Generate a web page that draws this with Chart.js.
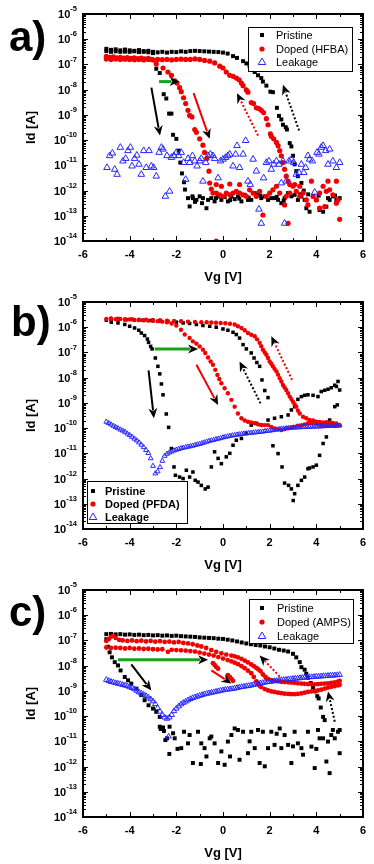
<!DOCTYPE html>
<html>
<head>
<meta charset="utf-8">
<script src="https://cdn.jsdelivr.net/npm/chart.js@4.4.0/dist/chart.umd.min.js"></script>
<style>
  body { margin: 0; background: #fff; }
  canvas { display: block; }
</style>
</head>
<body>
<canvas id="chartA" width="374" height="288"></canvas>
<canvas id="chartB" width="374" height="288"></canvas>
<canvas id="chartC" width="374" height="288"></canvas>
<script>
// all points are [Vg (V), log10 of Id (A)]
const xMin = -6
const xMax = 6
const yTickExps = [-14, -13, -12, -11, -10, -9, -8, -7, -6, -5]

const labelsA = ['Pristine', 'Doped (HFBA)', 'Leakage']
const labelsB = ['Pristine', 'Doped (PFDA)', 'Leakage']
const labelsC = ['Pristine', 'Doped (AMPS)', 'Leakage']

// ---------- panel a ----------
const aPristine = [
  [-5,-6.38],[-4.8,-6.42],[-4.6,-6.4],[-4.4,-6.44],[-4.2,-6.41],[-4,-6.44],[-3.8,-6.46],[-3.6,-6.43],[-3.4,-6.47],[-3.2,-6.46],[-3,-6.55],
  [-2.86,-7.17],[-2.71,-7.34],[-2.54,-8.18],[-2.43,-8.35],[-2.31,-8.95],[-2.21,-8.95],[-2.14,-9.79],[-2,-9.95],[-1.9,-10.42],[-1.83,-10.89],
  [-1.76,-11.32],[-1.67,-11.67],[-1.63,-11.96],[-1.5,-12.3],[-1.43,-12.63],[-1.31,-12.23],
  [-5,-6.47],[-4.8,-6.5],[-4.6,-6.48],[-4.4,-6.5],[-4.2,-6.49],[-4,-6.5],[-3.8,-6.48],[-3.6,-6.51],[-3.4,-6.5],[-3.2,-6.52],[-3,-6.5],
  [-2.8,-6.52],[-2.6,-6.5],[-2.4,-6.53],[-2.2,-6.5],[-2,-6.51],[-1.8,-6.48],[-1.6,-6.5],[-1.4,-6.47],[-1.2,-6.46],[-1,-6.47],[-0.8,-6.48],
  [-0.6,-6.49],[-0.4,-6.5],[-0.2,-6.51],[0,-6.53],[0.2,-6.57],[0.43,-6.67],[0.6,-6.74],[0.86,-6.87],[1,-6.96],[1.14,-7.07],[1.29,-7.2],
  [1.36,-7.3],[1.5,-7.43],[1.64,-7.54],[1.71,-7.68],[1.86,-7.84],[2.03,-8.08],[2.14,-8.1],[2.31,-8.72],[2.4,-9.04],[2.5,-9.18],[2.57,-9.39],
  [2.69,-9.49],[2.74,-9.58],[2.86,-10.12],[2.93,-10.25],[3,-10.62],[3.07,-10.96],[3.14,-11.23],[3.21,-11.43],[3.36,-11.7],[3.46,-12],
  [-1.29,-12.3],[-1.14,-12.37],[-1,-12.23],[-0.86,-12.3],[-0.71,-12.7],[-0.64,-12.37],[-0.5,-12.3],[-0.36,-12.43],[-0.21,-12.23],[-0.07,-12.37],
  [0.07,-12.26],[0.21,-12.43],[0.36,-12.23],[0.5,-12.34],[0.64,-12.23],[0.79,-12.43],[0.93,-12.17],[1.07,-12.37],[1.21,-12.37],[1.36,-12.1],
  [1.5,-12.17],[1.64,-12.3],[1.79,-12.23],[1.93,-12.37],[2.07,-12.3],[2.21,-12.3],[2.36,-12.37],[2.5,-12.5],[2.64,-12.3],[2.79,-12.1],
  [2.93,-12.23],[3.07,-12.17],[3.21,-12.37],[3.36,-12.23],[3.5,-12.37],[3.57,-12.7],[3.71,-12.84],[3.86,-12.23],[4,-12.37],[4.14,-12.77],
  [4.29,-12.84],[4.43,-12.64],[4.57,-12.37],[4.71,-12.23],[4.86,-12.37],[5,-12.3],
  [-1.2,-12.45],[-0.9,-12.5],[-0.3,-12.3],[0.3,-12.38],[0.7,-12.32],[1.1,-12.28],[1.6,-12.2],[2.3,-12.25],[2.6,-12.4],
  [3.3,-12.15],[3.65,-12.15],[4.1,-12.2],[4.5,-12.3],[4.8,-12.2]
]
const aDoped = [
  [-5,-6.68],[-4.85,-6.72],[-4.7,-6.7],[-4.55,-6.74],[-4.4,-6.72],[-4.25,-6.75],[-4.1,-6.73],[-3.95,-6.76],[-3.8,-6.74],[-3.65,-6.77],
  [-3.5,-6.75],[-3.35,-6.78],[-3.2,-6.76],[-3.05,-6.8],
  [-5,-6.78],[-4.8,-6.8],[-4.6,-6.78],[-4.4,-6.8],[-4.2,-6.79],[-4,-6.8],[-3.8,-6.81],[-3.6,-6.8],[-3.4,-6.82],[-3.2,-6.8],[-3,-6.82],
  [-2.8,-6.8],[-2.6,-6.81],[-2.4,-6.8],[-2.2,-6.82],[-2,-6.8],[-1.8,-6.79],[-1.6,-6.8],[-1.4,-6.8],[-1.2,-6.78],
  [-1,-6.8],[-0.79,-6.84],[-0.57,-6.87],[-0.36,-6.94],[-0.14,-7.07],[0,-7.14],[0.14,-7.3],[0.29,-7.43],[0.43,-7.47],[0.57,-7.54],
  [0.69,-7.61],[0.79,-7.74],[0.86,-7.84],[1,-8.01],[1.07,-8.1],[1.21,-8.51],[1.31,-8.55],[1.43,-8.72],[1.54,-8.75],[1.64,-8.82],
  [1.74,-8.91],[1.86,-9.15],[1.93,-9.39],[2.03,-9.75],[2.07,-9.85],[2.17,-9.95],[2.29,-10.09],[2.36,-10.22],[2.43,-10.42],[2.5,-10.62],
  [2.57,-10.89],[2.64,-11.16],[2.71,-11.43],[2.79,-11.63],[2.86,-11.76],
  [-2.86,-6.98],[-2.57,-7.14],[-2.36,-7.3],[-2.21,-7.43],[-2.07,-7.65],[-1.97,-7.74],[-1.86,-7.92],[-1.79,-8.08],[-1.69,-8.32],[-1.6,-8.55],
  [-1.5,-8.82],[-1.43,-9.02],[-1.33,-9.08],[-1.21,-9.58],[-1.14,-9.69],[-1,-9.95],[-0.86,-10.2],[-0.79,-10.49],[-0.69,-10.73],[-0.6,-11.23],
  [-0.57,-11.7],[-0.5,-11.94],[-0.43,-12.1],[-0.29,-14],
  [-0.29,-12.1],[-0.14,-12.17],[0,-12.23],[0.14,-12.1],[0.29,-12.17],[0.43,-12.1],[0.57,-12.03],[0.71,-12.1],[0.86,-12.17],[1,-12.23],
  [1.14,-11.97],[1.29,-12.1],[1.43,-12.23],[1.57,-12.03],[1.71,-12.97],[1.86,-12.23],[2,-12.1],[2.14,-11.97],[2.29,-11.83],[2.43,-12.1],
  [2.64,-12.57],[2.71,-12.23],[2.79,-13.3],[2.86,-12.1],[3,-11.83],[3.14,-12.03],[3.29,-12.23],[3.43,-12.1],[3.57,-12.37],[3.64,-12.57],
  [3.79,-11.63],[3.86,-12.23],[4,-12.37],[4.14,-12.1],[4.29,-11.83],[4.43,-12.03],[4.5,-11.63],[4.57,-11.97],[4.71,-12.17],[4.86,-11.63],
  [4.93,-12.37],[5,-13.14],[4.86,-12.5],[4.36,-12.64],[4.14,-12.7],[3.29,-11.83],[3.07,-11.76],[-0.29,-11.76],[-0.07,-11.83],[0.29,-11.74],
  [0.71,-11.76]
]
const aLeakage = [
  [-4.97,-11.09],[-4.86,-10.62],[-4.74,-10.52],[-4.64,-11.16],[-4.54,-11.36],[-4.4,-10.29],[-4.29,-10.83],[-4.17,-10.73],[-4.07,-10.42],
  [-3.97,-10.29],[-3.9,-11.03],[-3.79,-10.73],[-3.69,-10.6],[-3.6,-10.96],[-3.5,-11.36],[-3.4,-10.42],[-3.29,-11.09],[-3.17,-10.42],
  [-3.07,-11.03],[-2.97,-11.09],[-2.86,-11.43],[-2.74,-10.49],[-2.64,-10.29],[-2.57,-10.36],[-2.47,-12.23],[-2.4,-10.62],[-2.29,-12.03],
  [-2.21,-10.69],[-2.11,-10.62],[-2,-10.49],[-1.9,-10.62],[-1.79,-10.49],[-1.69,-10.89],[-1.6,-11.56],[-1.5,-10.73],[-1.43,-10.89],
  [-1.31,-10.62],[-1.21,-10.83],[-1.11,-11.03],[-1,-10.83],[-0.93,-10.73],[-0.86,-11.63],[-0.74,-10.89],[-0.64,-10.62],[-0.54,-10.56],
  [-0.43,-10.62],[-0.36,-10.73],[-0.21,-11.5],[-0.11,-10.83],[0,-10.76],[0.11,-10.69],[0.21,-10.62],[0.29,-10.56],[0.43,-11.03],
  [0.54,-10.56],[0.6,-10.22],[0.71,-11.09],[0.86,-10.56],[0.97,-10.02],[1.07,-11.63],[1.17,-11.76],[1.29,-10.76],[1.43,-11.23],
  [1.54,-12.74],[1.64,-13.3],[1.74,-11.5],[1.86,-10.89],[1.97,-10.83],[2.07,-11.16],[2.17,-10.96],[2.29,-10.83],[2.4,-10.96],[2.5,-11.7],
  [2.57,-10.83],[2.64,-13.3],[2.71,-11.63],[2.83,-10.83],[2.93,-10.76],[3.03,-10.89],[3.14,-11.36],[3.26,-11.29],[3.36,-10.96],
  [3.46,-11.29],[3.54,-11.09],[3.64,-10.62],[3.71,-10.76],[3.83,-10.83],[3.93,-12.07],[4.03,-10.49],[4.11,-10.56],[4.21,-10.29],
  [4.29,-10.22],[4.4,-10.42],[4.5,-10.96],[4.57,-10.36],[4.71,-10.83],[4.86,-11.09],[5,-10.89]
]

// ---------- panel b ----------
const bPristine = [
  [-5,-5.72],[-4.79,-5.8],[-4.5,-5.83],[-4.21,-5.89],[-4,-5.96],[-3.79,-6.03],[-3.61,-6.12],[-3.5,-6.23],[-3.36,-6.33],[-3.24,-6.47],
  [-3.19,-6.6],[-3.1,-6.76],[-3.04,-6.86],[-2.9,-7.22],[-2.79,-7.55],[-2.71,-7.85],[-2.64,-8.25],[-2.57,-8.68],[-2.43,-9.44],[-2.33,-9.97],
  [-2.21,-10.81],[-2.1,-11.54],[-2.04,-11.87],[-1.86,-11.94],[-1.71,-12],[-1.57,-11.67],[-1.43,-11.94],[-1.29,-11.74],[-1.19,-12.07],
  [-1.07,-12.14],[-0.93,-12.27],[-0.76,-12.41],[-0.64,-12.34],[-0.5,-11.54],[-0.36,-10.94],[-0.21,-11.2],[-0.07,-11.41],[0.14,-11.14],
  [0.29,-11],[0.43,-10.68],[0.57,-10.48],[0.79,-10.41],[1,-10.21],[1.21,-9.88],[1.43,-9.81],[1.64,-9.88],[1.93,-9.68],[2.21,-9.61],
  [2.5,-9.55],[2.79,-9.48],[2.93,-9.28],[3.07,-9.15],[3.21,-8.86],[3.36,-8.75],[3.5,-8.7],[3.64,-8.68],[3.86,-8.7],[4.07,-8.75],
  [4.21,-8.55],[4.36,-8.5],[4.5,-8.46],[4.64,-8.4],[4.79,-8.3],[4.86,-8.35],[4.93,-8.15],[5,-8.49],
  [4.9,-9.08],[4.79,-9.15],[4.57,-9.68],[4.43,-10.35],[4.29,-10.61],[4.14,-11.08],[4,-11.47],[3.86,-11.54],[3.71,-11.58],[3.64,-11.61],
  [3.5,-11.94],[3.36,-12.07],[3.21,-12.27],[3.07,-12.6],[3.01,-12.87],[2.93,-12.41],[2.81,-12.27],[2.64,-12.18],[2.53,-11.54],[2.36,-11.01],
  [2.14,-10.7],[1.93,-8.79],[1.79,-8.51],[1.67,-8.09],[1.57,-7.55],[1.45,-7.4],[1.33,-7.22],[1.21,-7.02],[1,-6.86],[0.86,-6.69],
  [0.71,-6.43],[0.57,-6.29],[0.43,-6.2],[0.21,-6.12],[0,-6.07],[-0.29,-6],[-0.57,-5.96],[-0.86,-5.93],[-1.14,-5.89],[-1.43,-5.85],
  [-1.71,-5.83],[-2,-5.8],[-2.36,-5.77],[-2.71,-5.76],[-3.07,-5.73],[-3.43,-5.72],[-3.79,-5.72],[-4.15,-5.7],[-4.5,-5.69],[-4.79,-5.69]
]
const bDoped = [
  [-5,-5.67],[-4.8,-5.65],[-4.6,-5.68],[-4.4,-5.67],[-4.2,-5.7],[-4,-5.69],[-3.8,-5.71],[-3.6,-5.72],[-3.4,-5.73],[-3.2,-5.74],
  [-3,-5.75],[-2.8,-5.76],[-2.6,-5.78],[-2.4,-5.8],[-2.2,-5.85],[-2,-5.93],[-1.8,-6.1],[-1.64,-6.29],[-1.43,-6.43],[-1.29,-6.56],
  [-1.14,-6.65],[-1,-6.76],[-0.86,-6.89],[-0.76,-7.02],[-0.64,-7.2],[-0.53,-7.36],[-0.43,-7.49],[-0.33,-7.69],[-0.24,-7.89],[-0.16,-8.05],
  [-0.07,-8.22],[0.07,-8.42],[0.21,-8.62],[0.36,-8.88],[0.5,-9.15],[0.64,-9.42],[0.79,-9.61],[0.93,-9.7],[1.07,-9.75],[1.21,-9.78],
  [1.36,-9.81],[1.5,-9.85],[1.64,-9.88],[1.79,-9.88],[1.93,-9.88],[2.07,-9.95],[2.21,-10.01],[2.36,-10.05],[2.5,-10.08],[2.64,-10.04],
  [2.79,-10.01],[2.93,-9.98],[3.07,-9.95],[3.21,-9.9],[3.36,-9.88],[3.5,-9.85],[3.64,-9.81],[3.79,-9.8],[3.93,-9.81],[4.07,-9.85],
  [4.21,-9.88],[4.36,-9.9],[4.5,-9.92],[4.64,-9.9],[4.79,-9.92],[4.93,-9.9],[5,-9.88],
  [4.86,-9.82],[4.71,-9.8],[4.57,-9.78],[4.43,-9.77],[4.29,-9.78],[4.14,-9.76],[4,-9.75],[3.86,-9.7],[3.71,-9.68],[3.57,-9.61],
  [3.43,-9.55],[3.29,-9.42],[3.21,-9.3],[3.14,-9.15],[3.07,-9.05],[3,-8.95],[2.93,-8.85],[2.86,-8.75],[2.79,-8.62],[2.71,-8.49],
  [2.64,-8.39],[2.57,-8.29],[2.5,-8.15],[2.43,-8.02],[2.36,-7.88],[2.29,-7.75],[2.21,-7.65],[2.14,-7.55],[2.07,-7.45],[2,-7.36],
  [1.93,-7.22],[1.86,-7.09],[1.79,-7],[1.71,-6.89],[1.64,-6.75],[1.57,-6.62],[1.46,-6.48],[1.36,-6.36],[1.21,-6.3],[1.07,-6.23],
  [0.93,-6.12],[0.79,-6.03],[0.64,-5.96],[0.5,-5.89],[0.3,-5.86],[0.1,-5.84],[-0.1,-5.83],[-0.3,-5.82],[-0.5,-5.81],[-0.7,-5.8],
  [-0.93,-5.8],[-1.2,-5.79],[-1.5,-5.78],[-1.8,-5.76],[-2.1,-5.75],[-2.4,-5.74],[-2.7,-5.72],[-3,-5.71],[-3.3,-5.7],[-3.6,-5.7],
  [-3.9,-5.68],[-4.2,-5.68],[-4.5,-5.66],[-4.8,-5.66]
]
const bLeakage = [
  [-5,-9.75],[-4.9,-9.8],[-4.8,-9.86],[-4.7,-9.91],[-4.6,-9.96],[-4.5,-10.01],[-4.4,-10.06],[-4.3,-10.1],[-4.2,-10.15],[-4.1,-10.22],
  [-4,-10.28],[-3.9,-10.35],[-3.8,-10.42],[-3.7,-10.49],[-3.6,-10.57],[-3.5,-10.66],[-3.4,-10.76],[-3.3,-10.87],[-3.2,-10.99],[-3.1,-11.2],
  [-3,-11.5],[-2.9,-11.8],[-2.8,-11.72],[-2.7,-11.55],[-2.6,-11.3],[-2.5,-11.1],[-2.4,-11.02],[-2.3,-10.97],[-2.2,-10.93],[-2.1,-10.89],
  [-2,-10.86],[-1.9,-10.83],[-1.8,-10.8],[-1.7,-10.78],[-1.6,-10.76],[-1.5,-10.74],[-1.4,-10.72],[-1.3,-10.7],[-1.2,-10.67],[-1.1,-10.65],
  [-1,-10.63],[-0.9,-10.6],[-0.8,-10.57],[-0.7,-10.54],[-0.6,-10.51],[-0.5,-10.49],[-0.4,-10.47],[-0.3,-10.44],[-0.2,-10.42],[-0.1,-10.4],
  [0,-10.37],[0.1,-10.35],[0.2,-10.33],[0.3,-10.31],[0.4,-10.29],[0.5,-10.28],[0.6,-10.26],[0.7,-10.25],[0.8,-10.23],[0.9,-10.22],
  [1,-10.21],[1.1,-10.2],[1.2,-10.19],[1.3,-10.18],[1.4,-10.17],[1.5,-10.16],[1.6,-10.15],[1.7,-10.14],[1.8,-10.12],[1.9,-10.11],
  [2,-10.1],[2.1,-10.09],[2.2,-10.07],[2.3,-10.06],[2.4,-10.04],[2.5,-10.03],[2.6,-10.02],[2.7,-10.01],[2.8,-10],[2.9,-9.99],
  [3,-9.98],[3.1,-9.98],[3.2,-9.97],[3.3,-9.97],[3.4,-9.96],[3.5,-9.96],[3.6,-9.95],[3.7,-9.95],[3.8,-9.95],[3.9,-9.94],
  [4,-9.94],[4.1,-9.94],[4.2,-9.93],[4.3,-9.93],[4.4,-9.92],[4.5,-9.92],[4.6,-9.92],[4.7,-9.91],[4.8,-9.91],[4.9,-9.9],[5,-9.9]
]

// ---------- panel c ----------
const cPristine = [
  [-5,-6.75],[-4.8,-6.74],[-4.6,-6.76],[-4.4,-6.75],[-4.2,-6.77],[-4,-6.76],[-3.8,-6.78],[-3.6,-6.77],[-3.4,-6.79],[-3.2,-6.78],
  [-3,-6.8],[-2.8,-6.79],[-2.6,-6.81],[-2.4,-6.8],[-2.2,-6.82],[-2,-6.81],[-1.8,-6.83],[-1.6,-6.84],[-1.4,-6.85],[-1.2,-6.86],
  [-1,-6.88],[-0.8,-6.89],[-0.6,-6.9],[-0.4,-6.91],[-0.2,-6.93],[0,-6.94],[0.2,-6.97],[0.4,-7],[0.6,-7.04],[0.8,-7.08],
  [1,-7.12],[1.2,-7.15],[1.4,-7.18],[1.6,-7.2],[1.8,-7.24],[2,-7.27],[2.2,-7.32],[2.4,-7.37],[2.6,-7.4],[2.79,-7.44],
  [3,-7.53],[3.14,-7.67],[3.29,-7.86],[3.36,-8.06],[3.5,-8.16],[3.57,-8.32],[3.64,-8.48],[3.76,-8.69],[3.86,-8.85],[3.96,-9.02],
  [4.04,-9.21],[4.1,-9.3],[4.19,-9.66],[4.29,-10.03],[4.36,-10.16],
  [-5,-6.95],[-4.93,-7.25],[-4.86,-7.47],[-4.76,-7.67],[-4.64,-7.86],[-4.5,-7.99],[-4.39,-8.19],[-4.21,-8.45],[-4.07,-8.58],[-3.93,-8.71],
  [-3.71,-8.91],[-3.5,-9.17],[-3.36,-9.37],[-3.19,-9.57],[-3,-9.7],[-2.86,-9.83],[-2.71,-10.03],[-2.71,-10.42],
  [-2.67,-10.51],[-2.53,-10.59],[-2.4,-10.88],[-2.29,-10.42],[-2.14,-10.68],[-2.07,-10.88],[-1.79,-11.27],[-1.67,-10.62],[-1.5,-11.08],
  [-1.43,-10.75],[-1.29,-11.86],[-1.07,-10.62],[-0.93,-11.08],[-0.79,-11.27],[-0.71,-11.6],[-0.57,-10.88],[-0.5,-10.81],[-0.36,-11.08],
  [-0.21,-11.86],[-0.07,-11.4],[0.07,-11.93],[0.21,-11.01],[0.36,-10.75],[0.5,-10.49],[0.64,-10.55],[0.71,-11.73],[0.86,-10.62],
  [1.07,-11.47],[1.21,-10.62],[1.36,-11.27],[1.5,-10.55],[1.57,-11.86],[1.71,-10.62],[1.79,-11.99],[1.93,-11.27],[2.07,-10.62],
  [2.21,-11.14],[2.43,-10.49],[2.5,-11.27],[2.64,-10.75],[2.79,-11.14],[2.93,-11.86],[3.07,-10.62],[3.21,-11.08],[3.36,-11.27],
  [3.43,-11.53],[3.64,-10.62],[3.79,-11.21],[3.93,-12.06],[4.07,-10.55],[4.14,-10.88],[4.29,-10.88],[4.43,-11.8],[4.5,-11.01],
  [4.57,-12.26],[4.64,-10.75],[4.71,-10.55],[4.79,-10.88],[4.93,-10.62],[5,-11.47],[5,-10.55],
  [-2.57,-10.45],[-2.47,-10.95],[-2.3,-11.5],[-1.95,-11.3],[-0.95,-11.9],[0.3,-11.6],[1.14,-11.0],[2.3,-10.7],[3.0,-11.2],[4.0,-11.3]
]
const cDoped = [
  [-5,-7.02],[-4.9,-6.95],[-4.8,-6.85],[-4.7,-6.82],[-4.6,-6.9],[-4.45,-6.98],[-4.3,-7],[-4.1,-7.02],[-3.9,-7],[-3.7,-7.03],
  [-3.5,-7.01],[-3.3,-7.04],[-3.1,-7.02],[-2.9,-7.05],[-2.7,-7.03],[-2.5,-7.06],[-2.3,-7.05],[-2.1,-7.08],[-1.9,-7.06],[-1.7,-7.1],
  [-1.5,-7.12],[-1.3,-7.15],[-1.1,-7.2],[-0.93,-7.24],[-0.72,-7.3],[-0.5,-7.38],[-0.29,-7.45],[-0.07,-7.51],[0.14,-7.56],[0.36,-7.6],
  [0.5,-7.63],[0.64,-7.67],[0.79,-7.73],[0.93,-7.8],[1.07,-7.87],[1.21,-7.95],[1.32,-8.02],[1.43,-8.09],[1.52,-8.15],[1.61,-8.22],
  [1.71,-8.35],[1.82,-8.45],[1.93,-8.52],[2.07,-8.57],[2.21,-8.6],[2.36,-8.62],[2.5,-8.64],[2.64,-8.65],[2.79,-8.66],[2.93,-8.67],
  [3.07,-8.68],[3.21,-8.7],[3.36,-8.71],[3.5,-8.72],[3.64,-8.73],[3.79,-8.74],[3.93,-8.74],[4.07,-8.73],[4.21,-8.72],[4.36,-8.71],
  [4.5,-8.7],[4.64,-8.68],[4.79,-8.66],[4.93,-8.63],[5,-8.6],
  [-5,-7.28],[-4.8,-7.3],[-4.6,-7.29],[-4.4,-7.3],[-4.2,-7.32],[-4,-7.3],[-3.8,-7.33],[-3.6,-7.32],[-3.4,-7.34],[-3.2,-7.33],
  [-3,-7.35],[-2.8,-7.36],[-2.6,-7.35],[-2.36,-7.45],[-2.2,-7.37],[-2,-7.38],[-1.8,-7.39],[-1.6,-7.4],[-1.4,-7.42],[-1.2,-7.44],
  [-1,-7.48],[-0.8,-7.52],[-0.6,-7.56],[-0.4,-7.6],[-0.2,-7.66],[0,-7.72],[0.2,-7.78],[0.36,-7.83],[0.5,-7.88],[0.64,-7.94],
  [0.79,-8.02],[0.93,-8.1],[1.07,-8.2],[1.21,-8.3],[1.32,-8.45],[1.43,-8.62],[1.5,-8.71],[1.57,-8.8],[1.64,-8.85],[1.79,-8.93],
  [1.93,-8.98],[2.07,-9.02],[2.21,-9.04],[2.36,-9.07],[2.5,-9.09],[2.64,-9.11],[2.79,-9.12],[2.93,-9.13],[3.07,-9.13],[3.21,-9.12],
  [3.36,-9.1],[3.5,-9.07],[3.64,-9.04],[3.79,-9.02],[3.93,-9],[4.07,-8.98],[4.21,-8.95],[4.36,-8.91],[4.5,-8.87],[4.64,-8.84],
  [4.79,-8.81],[4.93,-8.78],[5,-8.76],
  [-0.43,-7.9],[-0.36,-7.97],[-0.29,-8.05],[-0.21,-8.12],[0.21,-8.38],[0.29,-8.45],[0.36,-8.52],[0.43,-8.6]
]
const cLeakage = [
  [-5,-8.56],[-4.9,-8.6],[-4.8,-8.64],[-4.7,-8.66],[-4.6,-8.69],[-4.5,-8.71],[-4.4,-8.73],[-4.3,-8.76],[-4.2,-8.78],[-4.1,-8.81],
  [-4,-8.85],[-3.9,-8.88],[-3.8,-8.93],[-3.7,-8.99],[-3.6,-9.05],[-3.5,-9.1],[-3.4,-9.15],[-3.3,-9.2],[-3.2,-9.26],[-3.1,-9.33],
  [-3,-9.41],[-2.9,-9.52],[-2.8,-9.68],[-2.7,-9.82],[-2.6,-9.95],[-2.5,-10.05],[-2.4,-10.1],[-2.3,-10.05],[-2.2,-9.95],[-2.1,-9.8],
  [-2,-9.7],[-1.9,-9.61],[-1.8,-9.53],[-1.7,-9.47],[-1.6,-9.42],[-1.5,-9.37],[-1.4,-9.32],[-1.3,-9.28],[-1.2,-9.25],[-1.1,-9.22],
  [-1,-9.19],[-0.9,-9.16],[-0.8,-9.13],[-0.7,-9.11],[-0.6,-9.09],[-0.5,-9.07],[-0.4,-9.05],[-0.3,-9.03],[-0.2,-9.01],[-0.1,-8.99],
  [0,-8.97],[0.1,-8.95],[0.2,-8.94],[0.3,-8.93],[0.4,-8.92],[0.5,-8.9],[0.6,-8.88],[0.7,-8.86],[0.8,-8.84],[0.9,-8.83],
  [1,-8.81],[1.1,-8.8],[1.2,-8.78],[1.3,-8.76],[1.4,-8.74],[1.5,-8.72],[1.6,-8.7],[1.7,-8.68],[1.8,-8.66],[1.9,-8.65],
  [2,-8.64],[2.1,-8.62],[2.2,-8.61],[2.3,-8.6],[2.4,-8.58],[2.5,-8.57],[2.6,-8.56],[2.7,-8.55],[2.8,-8.54],[2.9,-8.53],
  [3,-8.52],[3.1,-8.51],[3.2,-8.5],[3.3,-8.49],[3.4,-8.48],[3.5,-8.47],[3.6,-8.46],[3.7,-8.45],[3.8,-8.45],[3.9,-8.44],
  [4,-8.43],[4.1,-8.43],[4.2,-8.42],[4.3,-8.41],[4.4,-8.41],[4.5,-8.4],[4.6,-8.39],[4.7,-8.39],[4.8,-8.38],[4.9,-8.37],[5,-8.36],
  [-2.33,-10.81]
]

// arrows: from / to in the same [Vg, log10 Id] units
const arrowsA = [
  { from: [-2.74,-7.68], to: [-1.86,-7.68], color: '#1aa01a', width: 3 },
  { from: [-3.07,-7.92], to: [-2.7,-9.82], color: '#000' },
  { from: [-1.26,-8.14], to: [-0.57,-9.95], color: '#f00000' },
  { from: [1.5,-9.82], to: [0.6,-8.14], color: '#f00000', dotted: true },
  { from: [3.26,-9.62], to: [2.57,-7.81], color: '#000', dotted: true }
]
const arrowsB = [
  { from: [-2.93,-6.86], to: [-1.07,-6.86], color: '#1aa01a', width: 3 },
  { from: [-3.19,-7.71], to: [-2.96,-9.61], color: '#000' },
  { from: [-1.14,-7.49], to: [-0.21,-9.08], color: '#f00000' },
  { from: [1.61,-9.02], to: [0.71,-7.36], color: '#000', dotted: true },
  { from: [2.96,-8.09], to: [2.07,-6.36], color: '#f00000', dotted: true }
]
const arrowsC = [
  { from: [-4.5,-7.77], to: [-0.64,-7.77], color: '#1aa01a', width: 3 },
  { from: [-3.93,-7.95], to: [-3.07,-8.98], color: '#000' },
  { from: [-0.5,-8.19], to: [0.36,-8.71], color: '#f00000' },
  { from: [2.43,-8.43], to: [1.57,-7.6], color: '#f00000', dotted: true },
  { from: [4.79,-10.22], to: [4.5,-9.02], color: '#000', dotted: true }
]

const font = "'Liberation Sans', Arial, sans-serif"
Chart.defaults.font.family = font
Chart.defaults.color = '#000'

function pts(arr) {
  return arr.map(p => ({ x: p[0], y: Math.pow(10, p[1]) }))
}

function drawArrow(ctx, x1, y1, x2, y2, a) {
  const ang = Math.atan2(y2 - y1, x2 - x1)
  const hl = 10, hw = 4.5
  const bx = x2 - hl * Math.cos(ang), by = y2 - hl * Math.sin(ang)
  ctx.save()
  ctx.strokeStyle = a.color
  ctx.lineWidth = a.width || 2
  if (a.dotted) ctx.setLineDash([2, 2])
  ctx.beginPath()
  ctx.moveTo(x1, y1)
  ctx.lineTo(bx + 2 * Math.cos(ang), by + 2 * Math.sin(ang))
  ctx.stroke()
  ctx.setLineDash([])
  ctx.fillStyle = '#000'
  ctx.beginPath()
  ctx.moveTo(x2, y2)
  ctx.lineTo(bx + hw * Math.sin(ang), by - hw * Math.cos(ang))
  ctx.lineTo(bx + 3 * Math.cos(ang), by + 3 * Math.sin(ang))
  ctx.lineTo(bx - hw * Math.sin(ang), by + hw * Math.cos(ang))
  ctx.closePath()
  ctx.fill()
  ctx.restore()
}

function drawMarker(ctx, ds, x, y) {
  ctx.save()
  if (ds.pointStyle == 'rect') {
    ctx.fillStyle = ds.pointBackgroundColor
    ctx.fillRect(x - 2, y - 2, 4, 4)
  } else if (ds.pointStyle == 'circle') {
    ctx.fillStyle = ds.pointBackgroundColor
    ctx.beginPath(); ctx.arc(x, y, 2.6, 0, Math.PI * 2); ctx.fill()
  } else {
    ctx.strokeStyle = ds.pointBorderColor
    ctx.lineWidth = 1
    ctx.beginPath()
    ctx.moveTo(x, y - 4); ctx.lineTo(x + 3.8, y + 2.5); ctx.lineTo(x - 3.8, y + 2.5)
    ctx.closePath(); ctx.stroke()
  }
  ctx.restore()
}

const decor = {
  id: 'decor',
  afterDatasetsDraw(chart, args, opts) {
    const xs = chart.scales.x, ys = chart.scales.y
    opts.arrows.forEach(a => {
      drawArrow(chart.ctx,
        xs.getPixelForValue(a.from[0]), ys.getPixelForValue(Math.pow(10, a.from[1])),
        xs.getPixelForValue(a.to[0]), ys.getPixelForValue(Math.pow(10, a.to[1])), a)
    })
  },
  afterDraw(chart, args, opts) {
    const ctx = chart.ctx
    const area = chart.chartArea
    const xs = chart.scales.x, ys = chart.scales.y
    ctx.save()
    // frame
    ctx.strokeStyle = '#000'
    ctx.lineWidth = 2
    ctx.strokeRect(area.left, area.top, area.right - area.left, area.bottom - area.top)
    // inward ticks on all four sides
    ctx.lineWidth = 1
    ctx.beginPath()
    for (let v = xMin + 1; v < xMax; v++) {
      const px = Math.round(xs.getPixelForValue(v)) + 0.5
      const len = v % 2 == 0 ? 5 : 3
      ctx.moveTo(px, area.bottom); ctx.lineTo(px, area.bottom - len)
      ctx.moveTo(px, area.top); ctx.lineTo(px, area.top + len)
    }
    for (let i = 0; i < yTickExps.length - 1; i++) {
      for (let m = 1; m < 10; m++) {
        const py = Math.round(ys.getPixelForValue(m * Math.pow(10, yTickExps[i]))) + 0.5
        const len = m == 1 ? 5 : 3
        ctx.moveTo(area.left, py); ctx.lineTo(area.left + len, py)
        ctx.moveTo(area.right, py); ctx.lineTo(area.right - len, py)
      }
    }
    ctx.stroke()
    // y tick labels 10^n
    ctx.fillStyle = '#000'
    ctx.textBaseline = 'middle'
    yTickExps.forEach(k => {
      const py = ys.getPixelForValue(Math.pow(10, k))
      ctx.font = 'bold 7.5px ' + font
      const sup = String(k)
      const ex = area.left - 6 - ctx.measureText(sup).width
      ctx.textAlign = 'left'
      ctx.fillText(sup, ex, py - 5)
      ctx.font = 'bold 11px ' + font
      ctx.textAlign = 'right'
      ctx.fillText('10', ex, py + 1)
    })
    // panel letter
    ctx.font = 'bold 42px ' + font
    ctx.textAlign = 'left'
    ctx.textBaseline = 'alphabetic'
    ctx.fillText(opts.letter, opts.letterX, opts.letterY)
    // legend box
    const lg = opts.legend
    ctx.fillStyle = '#fff'
    ctx.fillRect(lg.x, lg.y, lg.w, lg.h)
    ctx.strokeStyle = '#000'
    ctx.lineWidth = 1
    ctx.strokeRect(lg.x + 0.5, lg.y + 0.5, lg.w, lg.h)
    ctx.font = (lg.bold ? 'bold ' : '') + '11px ' + font
    ctx.textBaseline = 'middle'
    chart.data.datasets.forEach((ds, i) => {
      drawMarker(ctx, ds, lg.markerX, lg.rows[i])
      ctx.fillStyle = '#000'
      ctx.fillText(ds.label, lg.textX, lg.rows[i] + 1)
    })
    ctx.restore()
  }
}

function makePanel(id, labels, pristine, doped, leakage, sizes, decorOpts) {
  new Chart(document.getElementById(id), {
    type: 'scatter',
    data: {
      datasets: [
        { label: labels[0], data: pts(pristine), pointStyle: 'rect', pointRadius: sizes[0],
          pointBackgroundColor: '#000', pointBorderWidth: 0, order: 3, clip: 0 },
        { label: labels[1], data: pts(doped), pointStyle: 'circle', pointRadius: sizes[1],
          pointBackgroundColor: '#f00000', pointBorderWidth: 0, order: 2, clip: 0 },
        { label: labels[2], data: pts(leakage), pointStyle: 'triangle', pointRadius: sizes[2],
          pointBackgroundColor: 'rgba(0,0,0,0)', pointBorderColor: '#2626ff', pointBorderWidth: 1, order: 1, clip: 0 }
      ]
    },
    options: {
      responsive: false,
      animation: false,
      events: [],
      layout: { padding: { left: 0, right: 11, top: 14, bottom: 0 } },
      scales: {
        x: {
          type: 'linear', min: xMin, max: xMax,
          grid: { display: false, drawTicks: false },
          border: { display: false },
          ticks: { stepSize: 2, padding: 7, color: '#000', font: { size: 11, weight: 'bold' } },
          title: { display: true, text: 'Vg [V]', color: '#000', font: { size: 13, weight: 'bold' }, padding: { top: 0, bottom: 3 } },
          afterFit(s) { s.height = 47 }
        },
        y: {
          type: 'logarithmic', min: Math.pow(10, yTickExps[0]), max: Math.pow(10, yTickExps[yTickExps.length - 1]),
          grid: { display: false, drawTicks: false },
          border: { display: false },
          ticks: { display: false },
          title: { display: true, text: 'Id [A]', color: '#000', font: { size: 13, weight: 'bold' }, padding: { top: 24, bottom: 0 } },
          afterFit(s) { s.width = 83 }
        }
      },
      plugins: {
        legend: { display: false },
        tooltip: { enabled: false },
        decor: decorOpts
      }
    },
    plugins: [decor]
  })
}

makePanel('chartA', labelsA, aPristine, aDoped, aLeakage, [2.8, 2.6, 3.8], {
  letter: 'a)', letterX: 9, letterY: 51, arrows: arrowsA,
  legend: { x: 248, y: 27, w: 104, h: 44, rows: [35, 49, 62], markerX: 262, textX: 276, bold: false }
})
makePanel('chartB', labelsB, bPristine, bDoped, bLeakage, [2.5, 2.2, 2.8], {
  letter: 'b)', letterX: 11, letterY: 48, arrows: arrowsB,
  legend: { x: 87, y: 193, w: 100, h: 42, rows: [203, 216, 229], markerX: 93, textX: 105, bold: true }
})
makePanel('chartC', labelsC, cPristine, cDoped, cLeakage, [2.8, 2.4, 3.2], {
  letter: 'c)', letterX: 9, letterY: 50, arrows: arrowsC,
  legend: { x: 249, y: 23, w: 104, h: 44, rows: [32, 46, 60], markerX: 262, textX: 277, bold: false }
})
</script>
</body>
</html>
